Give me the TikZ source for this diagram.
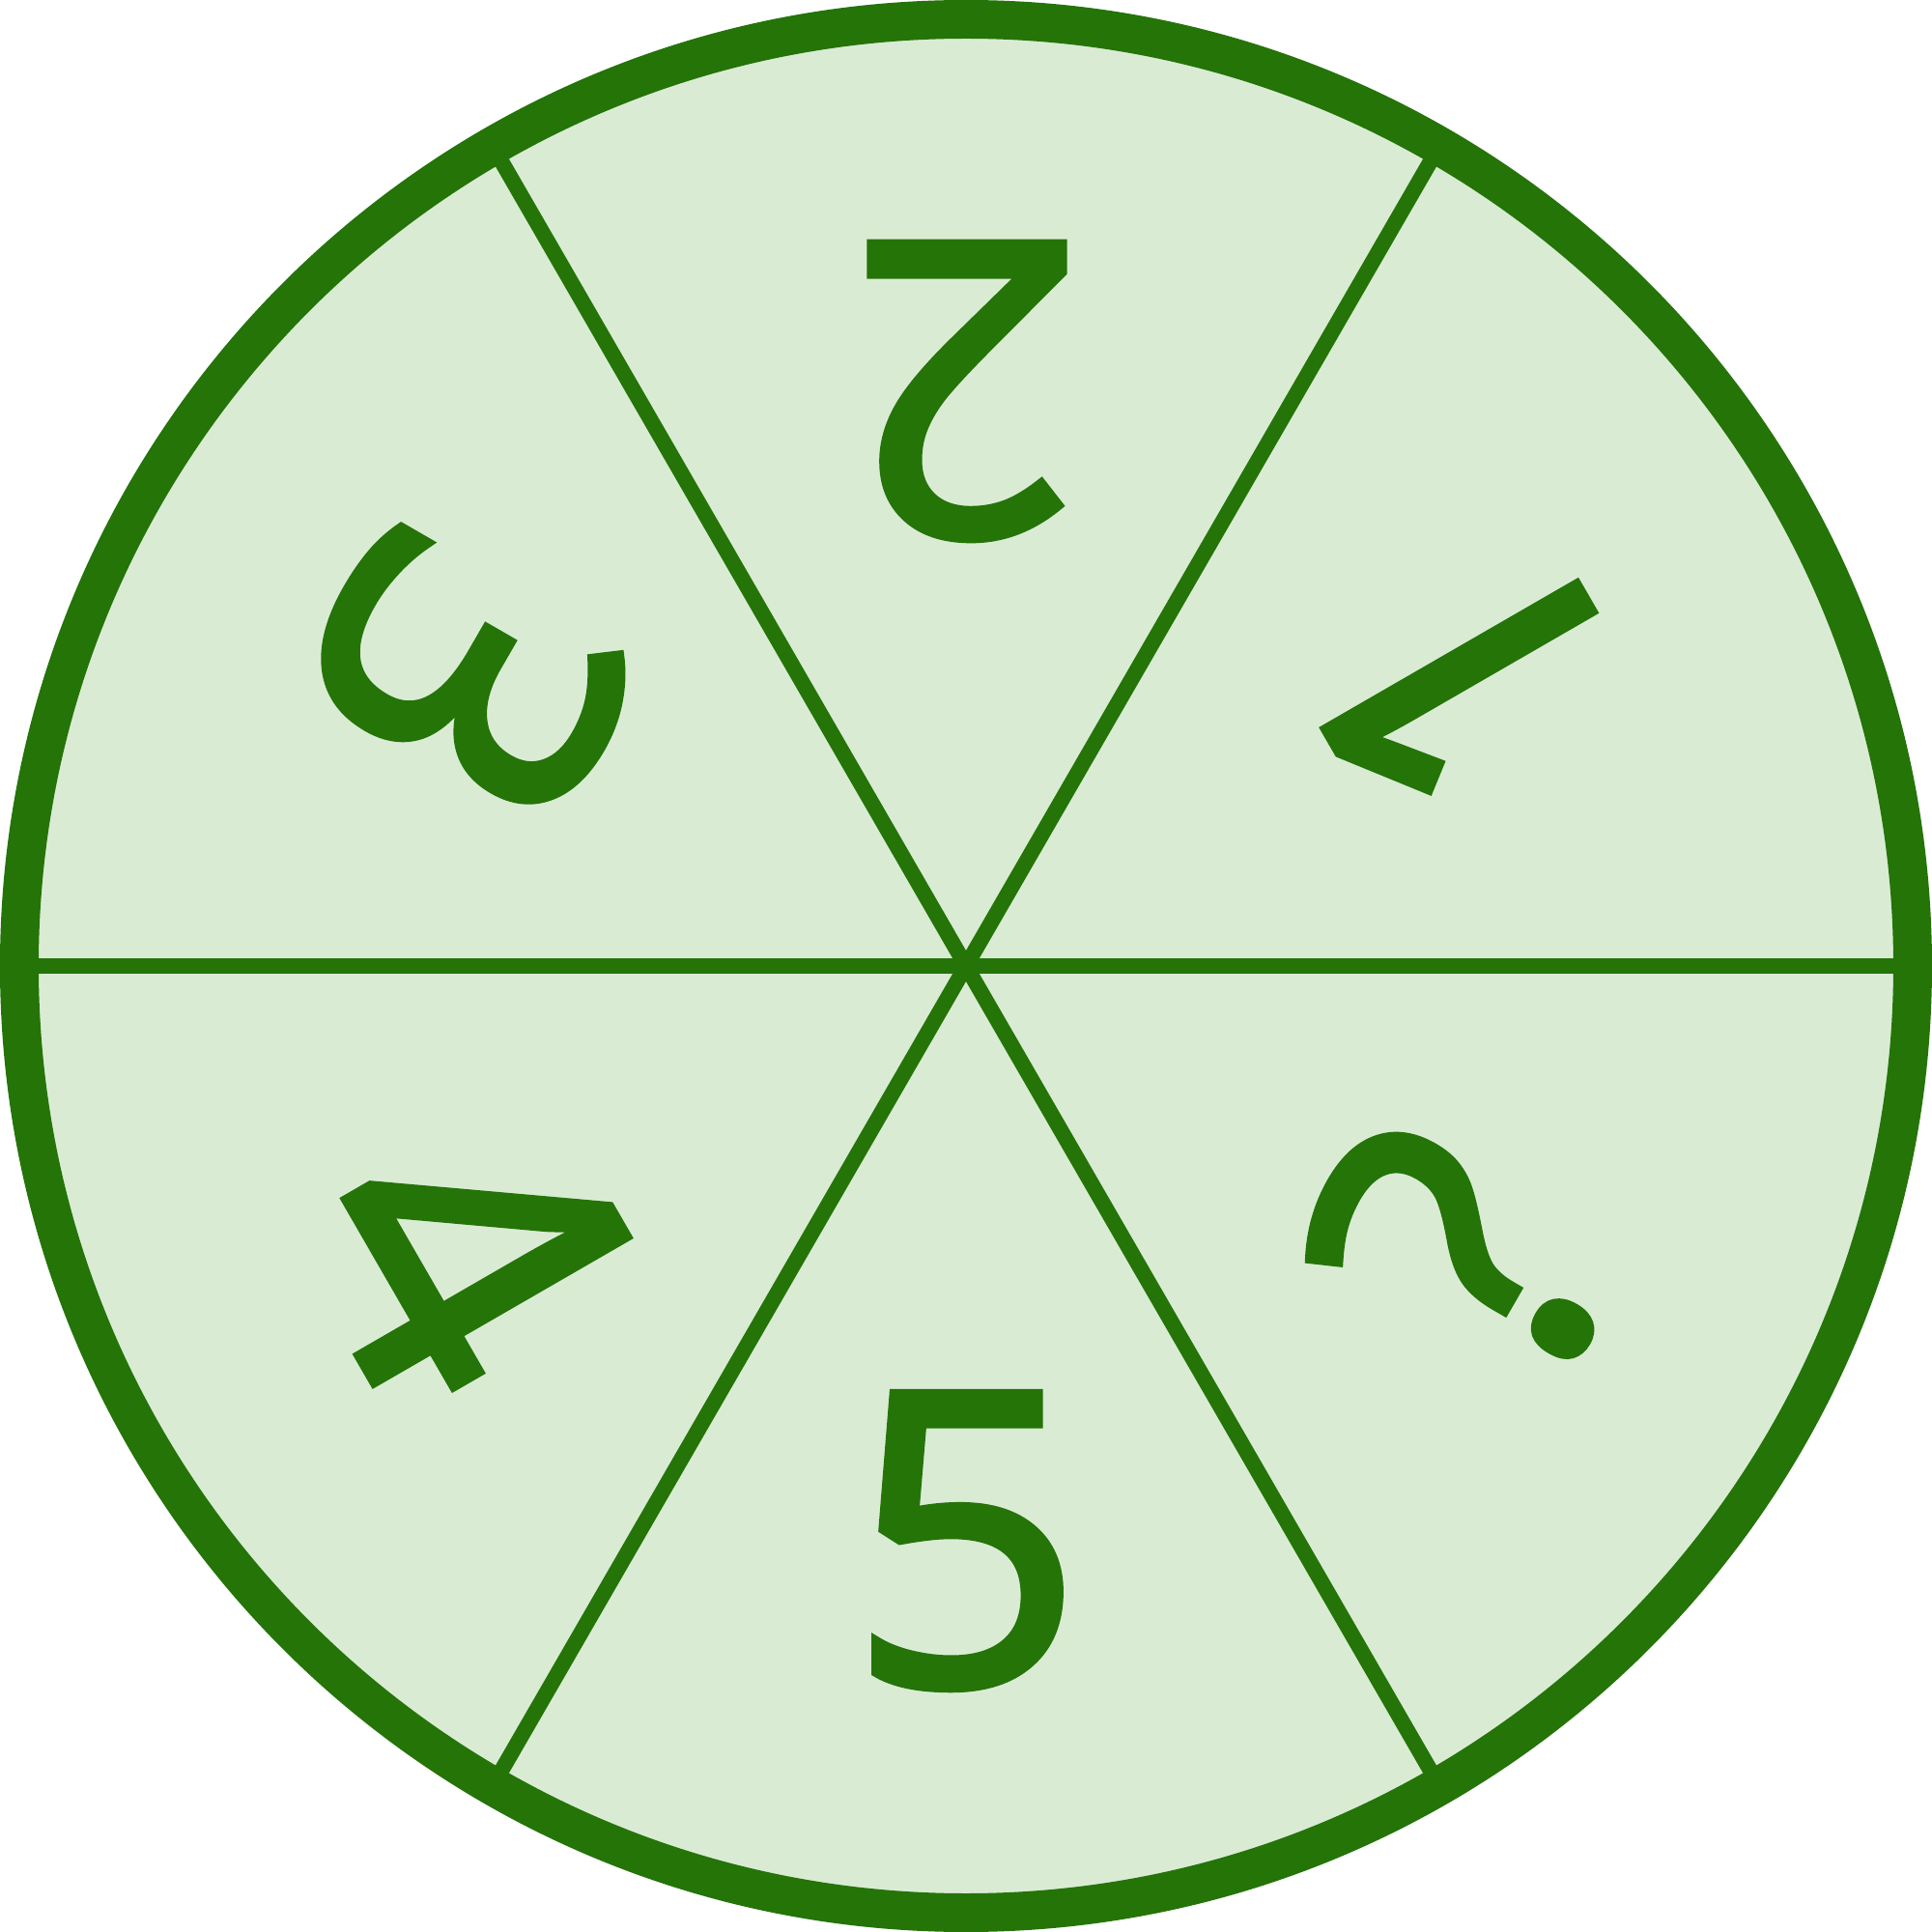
\documentclass[tikz,border=0pt]{standalone}
\usepackage{fontspec}
\setmainfont{Open Sans}
\newfontfamily\digitfont{Open Sans}[FakeBold=2.2]
\usetikzlibrary{positioning}
\definecolor{rim}{RGB}{36,116,8}
\definecolor{wheel}{RGB}{218,235,212}

\begin{document}
\begin{tikzpicture}[
  num/.style={text=rim,font=\digitfont\fontsize{120}{120}\selectfont,inner sep=0pt},
  spoke/.style={draw=rim,line width=0.16cm},
  edge/.style={draw=rim,line width=0.4cm}
]
\useasboundingbox (-10,-10) rectangle (10,10);
\fill[wheel] (0,0) circle (9.8);
\coordinate (hub) at (0,0);
\draw[spoke] (180:9.8) -- (hub) -- (0:9.8);
\draw[spoke] (60:9.8) -- (hub) -- (240:9.8);
\draw[spoke] (120:9.8) -- (hub) -- (300:9.8);
\draw[edge] (hub) circle (9.8);
% labels face the hub
\foreach \a/\t/\k in {30/1/one,90/2/two,150/3/three,210/4/four,270/5/five,330/?/ask}
  \node[num,rotate=\a+90] (\k) at (\a:5.95) {\t};
\end{tikzpicture}
\end{document}
